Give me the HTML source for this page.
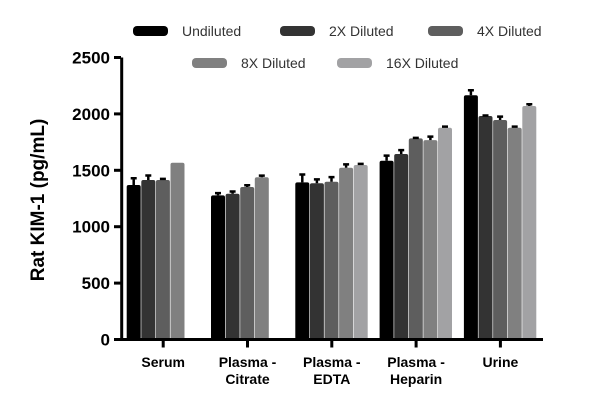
<!DOCTYPE html>
<html><head><meta charset="utf-8"><style>
body{margin:0;background:#fff;}
svg{display:block;font-family:"Liberation Sans",sans-serif;}
</style></head><body>
<svg id="chart" width="600" height="420" viewBox="0 0 600 420">
<g id="legend"></g>
<g id="plot"></g>
<g id="axes"></g>
<text transform="translate(44,200) rotate(-90)" text-anchor="middle" font-size="19" font-weight="bold" fill="#000">Rat KIM-1 (pg/mL)</text>
</svg>
<script>
const categories=[["Serum"],["Plasma -","Citrate"],["Plasma -","EDTA"],["Plasma -","Heparin"],["Urine"]];
const seriesNames=["Undiluted","2X Diluted","4X Diluted","8X Diluted","16X Diluted"];
const undiluted=[1370,1278,1393,1585,2165];
const diluted2x=[1414,1292,1385,1644,1981];
const diluted4x=[1414,1352,1399,1783,1946];
const diluted8x=[1567,1438,1523,1768,1877];
const diluted16x=[null,null,1547,1877,2070];
const err1=[60,20,70,45,45];
const err2=[40,20,35,35,5];
const err4=[10,15,40,5,30];
const err8=[0,15,30,30,10];
const err16=[0,0,10,10,15];
const yTicks=[0,500,1000,1500,2000,2500];
const series=[undiluted,diluted2x,diluted4x,diluted8x,diluted16x];
const errs=[err1,err2,err4,err8,err16];
const colors=["#000000","#333333","#5e5e5e","#808080","#a2a2a4"];
const NS="http://www.w3.org/2000/svg";
const y0=339.5,yMax=57.5,vMax=2500;
function yScale(v){return y0-(v/vMax)*(y0-yMax);}
const groupStart=163.2,groupStep=84.3,barStep=14.6,barW=14;
function xBar(g,s){return groupStart+g*groupStep+(s-2.5)*barStep;}
function mk(tag,attrs,parent){const e=document.createElementNS(NS,tag);for(const k in attrs)e.setAttribute(k,attrs[k]);parent.appendChild(e);return e;}
const plot=document.getElementById('plot'),axes=document.getElementById('axes'),legend=document.getElementById('legend');
series.forEach((vals,s)=>{vals.forEach((v,g)=>{if(v==null)return;
 const x=xBar(g,s),y=yScale(v);
 const r=mk('rect',{x:x,y:y,width:barW,height:y0-y,fill:colors[s],rx:2},plot);
 
 
 const e=errs[s][g];
 if(e>0){const cx=x+barW/2,ye=yScale(v+e);
  const l=mk('path',{d:`M${cx},${y}V${ye}M${cx-3},${ye}H${cx+3}`,stroke:'#000','stroke-width':2.5,fill:'none'},plot);
  
  }
});});
const ya=mk('path',{d:`M121.7,${yMax}V${y0+1.5}`,stroke:'#000','stroke-width':3},axes);


const xa=mk('path',{d:`M120.5,${y0}H543`,stroke:'#000','stroke-width':3},axes);


yTicks.forEach(t=>{const y=yScale(t);
 mk('path',{d:`M114,${y}H121`,stroke:'#000','stroke-width':3},axes);
 const tx=mk('text',{x:110,y:y+6,'text-anchor':'end','font-size':17,'font-weight':'bold',fill:'#000'},axes);
 tx.textContent=t;
 
 });
categories.forEach((c,g)=>{const x=groupStart+g*groupStep;
 mk('path',{d:`M${x},${y0}V${y0+8}`,stroke:'#000','stroke-width':3},axes);
 c.forEach((line,i)=>{const tx=mk('text',{x:x,y:367+i*17,'text-anchor':'middle','font-size':14,'font-weight':'bold',fill:'#000'},axes);
  tx.textContent=line;
  
  });});
const legPos=[[133,31],[280,31],[428,31],[192,63],[337,63]];
seriesNames.forEach((n,s)=>{const [x,y]=legPos[s];
 const g=mk('g',{},legend);
 
 
 mk('rect',{x:x,y:y-5,width:35,height:10,rx:4,fill:colors[s]},g);
 const t=mk('text',{x:x+49,y:y+5,'font-size':14,fill:'#333'},g);
 t.textContent=n;});
</script>
</body></html>
